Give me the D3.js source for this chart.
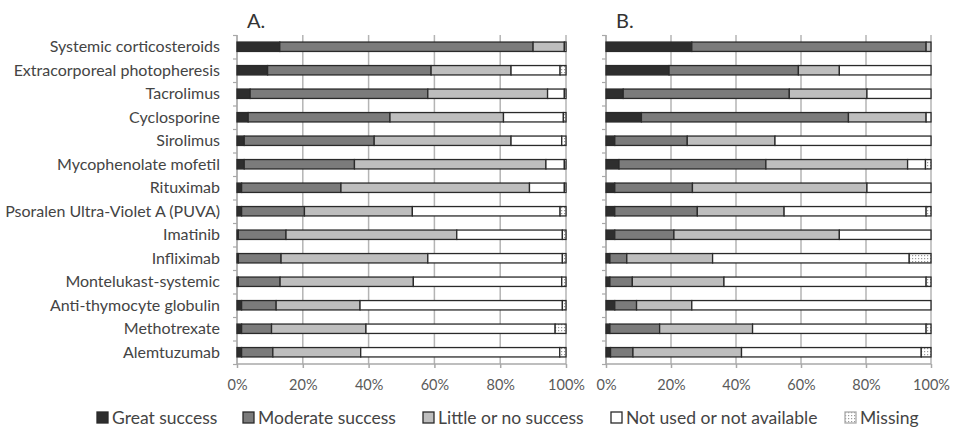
<!DOCTYPE html>
<html>
<head>
<meta charset="utf-8">
<script src="https://cdn.jsdelivr.net/npm/d3@7/dist/d3.min.js"></script>
<style>
  body { margin: 0; background: #fff; }
  text { font-family: Lato, "Open Sans", sans-serif; }
</style>
</head>
<body>
<script>
var drugs = ['Systemic corticosteroids', 'Extracorporeal photopheresis', 'Tacrolimus',
  'Cyclosporine', 'Sirolimus', 'Mycophenolate mofetil', 'Rituximab',
  'Psoralen Ultra-Violet A (PUVA)', 'Imatinib', 'Infliximab', 'Montelukast-systemic',
  'Anti-thymocyte globulin', 'Methotrexate', 'Alemtuzumab'];

var seriesNames = ['Great success', 'Moderate success', 'Little or no success',
  'Not used or not available', 'Missing'];

var tickLabels = [0, 20, 40, 60, 80, 100];

// panel A (percent of respondents)
var aGreat    = [13, 9.3, 4, 3.4, 2.2, 2.2, 1.4, 1.4, 0.4, 0.4, 0.4, 1.4, 1.4, 1.4];
var aModerate = [77, 49.7, 54, 43.1, 39.5, 33.5, 30.2, 19.1, 14.5, 13, 12.7, 10.5, 9.1, 9.5];
var aLittle   = [9.5, 24.3, 36.4, 34.5, 41.6, 58.2, 57.3, 32.8, 51.9, 44.6, 40.5, 25.5, 28.7, 26.7];
var aNotUsed  = [0.5, 14.9, 5.1, 18.2, 15.4, 5.6, 10.6, 44.9, 32.1, 40.9, 45.1, 61.5, 57.5, 60.5];
var aMissing  = [0, 1.8, 0.5, 0.8, 1.3, 0.5, 0.5, 1.8, 1.1, 1.1, 1.3, 1.1, 3.3, 1.9];

// panel B
var bGreat    = [26.4, 19.4, 5.3, 10.9, 2.7, 4, 2.7, 2.7, 2.7, 1.2, 1.2, 2.7, 1.2, 1.4];
var bModerate = [72.1, 39.8, 51.1, 63.7, 22.3, 45.2, 23.9, 25.4, 18.2, 5.2, 6.9, 6.7, 15.3, 6.9];
var bLittle   = [1.5, 12.6, 23.9, 23.9, 27, 43.6, 53.7, 26.7, 50.9, 26.4, 28.2, 17, 28.6, 33.4];
var bNotUsed  = [0, 28.2, 19.7, 1.5, 48, 5.5, 19.7, 43.7, 28.2, 60.5, 62.2, 73.6, 53.4, 55.3];
var bMissing  = [0, 0, 0, 0, 0, 1.7, 0, 1.5, 0, 6.7, 1.5, 0, 1.5, 3];

var width = 956, height = 433;
var plotTop = 35, plotBottom = 364;

var svg = d3.select('body').append('svg')
  .attr('width', width)
  .attr('height', height);

// dotted fill for "Missing"
var pat = svg.append('defs').append('pattern')
  .attr('id', 'dots')
  .attr('width', 3).attr('height', 3)
  .attr('patternUnits', 'userSpaceOnUse');
pat.append('rect').attr('width', 3).attr('height', 3).attr('fill', '#fff');
pat.append('rect').attr('width', 1.2).attr('height', 1.2).attr('fill', '#9a9a9a');

var fills = ['#2e2e2e', '#7b7b7b', '#bebebe', '#ffffff', 'url(#dots)'];

function rows(g, m, l, n, x) {
  return drugs.map(function(d, i) {
    return { drug: d, s0: g[i], s1: m[i], s2: l[i], s3: n[i], s4: x[i] };
  });
}

var stack = d3.stack().keys(['s0', 's1', 's2', 's3', 's4']);

var y = d3.scaleBand()
  .domain(drugs)
  .range([plotTop, plotBottom])
  .paddingInner(0.6)
  .paddingOuter(0.3);

var yTicks = d3.scaleLinear().domain([0, drugs.length]).range([plotTop, plotBottom]);

function drawPanel(x0, x1, data, title) {
  var x = d3.scaleLinear().domain([0, 100]).range([x0, x1]);
  var g = svg.append('g');

  //gridlines
  g.selectAll('.grid')
    .data(tickLabels)
    .enter()
    .append('line')
    .attr('x1', function(d) { return x(d); })
    .attr('x2', function(d) { return x(d); })
    .attr('y1', plotTop)
    .attr('y2', plotBottom)
    .attr('stroke', '#b4b4b4')
    .attr('stroke-width', 1.5);

  var xAxis = g.append('g')
    .attr('transform', 'translate(0,' + plotBottom + ')')
    .call(d3.axisBottom(x).tickValues(tickLabels)
      .tickFormat(function(d) { return d + '%'; })
      .tickSize(4).tickPadding(12));
  xAxis.selectAll('line, path').attr('stroke', '#a8a8a8').attr('stroke-width', 1.5);
  xAxis.select('.domain').attr('d', 'M' + x0 + ',0H' + x1);
  xAxis.selectAll('text')
    .attr('fill', '#5a5a5a')
    .style('font-size', '14.5px')
    .style('font-family', 'Lato, sans-serif');

  var yAxis = g.append('g')
    .attr('transform', 'translate(' + x0 + ',0)')
    .call(d3.axisLeft(yTicks).ticks(drugs.length).tickFormat('').tickSize(4));
  yAxis.selectAll('line, path').attr('stroke', '#a8a8a8').attr('stroke-width', 1.2);
  yAxis.select('.domain').attr('d', 'M0,' + plotTop + 'V' + plotBottom);

  var layers = g.selectAll('.layer')
    .data(stack(data))
    .enter()
    .append('g')
    .attr('fill', function(d, i) { return fills[i]; });

  layers.selectAll('rect')
    .data(function(d) { return d.filter(function(s) { return s[1] - s[0] > 0; }); })
    .enter()
    .append('rect')
    .attr('x', function(d) { return x(d[0]); })
    .attr('width', function(d) { return x(d[1]) - x(d[0]); })
    .attr('y', function(d) { return y(d.data.drug); })
    .attr('height', y.bandwidth())
    .attr('stroke', '#2a2a2a')
    .attr('stroke-width', 1.3);

  g.append('text')
    .attr('x', x0 + 10)
    .attr('y', 28)
    .attr('fill', '#333')
    .style('font-size', '20px')
    .text(title);

  return g;
}

drawPanel(237, 566, rows(aGreat, aModerate, aLittle, aNotUsed, aMissing), 'A.');
drawPanel(606, 931, rows(bGreat, bModerate, bLittle, bNotUsed, bMissing), 'B.');

// category labels
svg.append('g').selectAll('text')
  .data(drugs)
  .enter()
  .append('text')
  .attr('x', 220)
  .attr('y', function(d) { return y(d) + y.bandwidth() / 2; })
  .attr('dy', '0.35em')
  .attr('text-anchor', 'end')
  .attr('fill', '#444')
  .style('font-size', '16px')
  .text(function(d) { return d; });

// legend
var legendX = [97, 243, 423, 611, 845];
var legend = svg.append('g').selectAll('g')
  .data(seriesNames)
  .enter()
  .append('g')
  .attr('transform', function(d, i) { return 'translate(' + legendX[i] + ',412)'; });

legend.append('rect')
  .attr('width', 11).attr('height', 11)
  .attr('fill', function(d, i) { return fills[i]; })
  .attr('stroke', function(d, i) { return i === 4 ? '#aaa' : '#2a2a2a'; })
  .attr('stroke-width', 1.3);

legend.append('text')
  .attr('x', 15)
  .attr('y', 6)
  .attr('dy', '0.36em')
  .attr('fill', '#444')
  .style('font-size', '17.5px')
  .text(function(d) { return d; });
</script>
</body>
</html>
